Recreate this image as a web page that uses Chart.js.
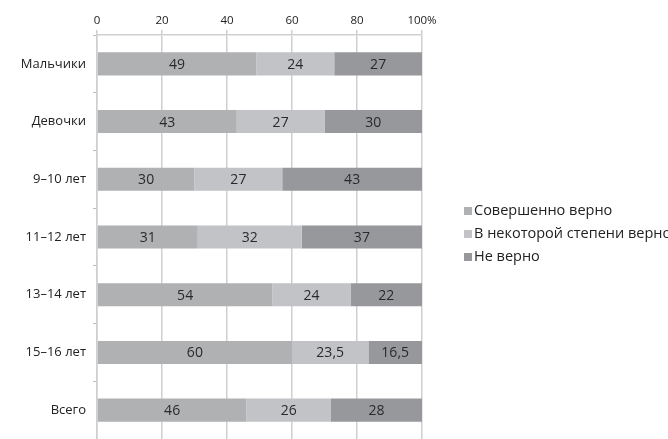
<!DOCTYPE html>
<html>
<head>
<meta charset="utf-8">
<script src="https://cdn.jsdelivr.net/npm/chart.js@4"></script>
<style>
  html, body { margin: 0; padding: 0; background: #fff; }
  #wrap { width: 668px; height: 439px; position: relative; }
</style>
</head>
<body>
<div id="wrap"><canvas id="chart"></canvas></div>
<script>
// data
const categories = ['Мальчики', 'Девочки', '9–10 лет', '11–12 лет', '13–14 лет', '15–16 лет', 'Всего'];
const fullyTrue = [49, 43, 30, 31, 54, 60, 46];
const partlyTrue = [24, 27, 27, 32, 24, 23.5, 26];
const notTrue = [27, 30, 43, 37, 22, 16.5, 28];
const seriesNames = ['Совершенно верно', 'В некоторой степени верно', 'Не верно'];
const xTicks = [0, 20, 40, 60, 80, 100];

const colors = ['#b0b1b3', '#c2c3c6', '#97989b'];
const FONT = '"Open Sans", "Noto Sans", sans-serif';

// numbers inside the bars, with a comma for decimals
const barLabels = {
  id: 'barLabels',
  afterDatasetsDraw(chart){
    const ctx = chart.ctx;
    ctx.save();
    ctx.font = '14px ' + FONT;
    ctx.fillStyle = '#2a2a2a';
    ctx.textAlign = 'center';
    ctx.textBaseline = 'middle';
    chart.data.datasets.forEach((ds, i)=>{
      chart.getDatasetMeta(i).data.forEach((bar, j)=>{
        const txt = String(ds.data[j]).replace('.', ',');
        ctx.fillText(txt, (bar.x + bar.base) / 2, bar.y + 1);
      });
    });
    ctx.restore();
  }
};

// legend on the right, drawn by hand so it can run off the edge like the original
const sideLegend = {
  id: 'sideLegend',
  afterDraw(chart){
    const ctx = chart.ctx;
    ctx.save();
    ctx.font = '14.5px ' + FONT;
    ctx.textBaseline = 'middle';
    chart.data.datasets.forEach((ds, i)=>{
      const y = 211 + i * 23;
      ctx.fillStyle = ds.backgroundColor;
      ctx.fillRect(464, y - 4, 8, 8);
      ctx.fillStyle = '#222';
      ctx.fillText(ds.label, 474, y);
    });
    ctx.restore();
  }
};

const datasets = [fullyTrue, partlyTrue, notTrue].map((d, i)=>({
  label: seriesNames[i],
  data: d,
  backgroundColor: colors[i],
  borderWidth: 0,
  categoryPercentage: 1,
  barPercentage: 0.4
}));

new Chart(document.getElementById('chart'), {
  type: 'bar',
  data: { labels: categories, datasets },
  options: {
    indexAxis: 'y',
    responsive: true,
    maintainAspectRatio: false,
    animation: false,
    layout: { padding: { top: 10, right: 246, bottom: 0, left: 0 } },
    plugins: { legend: { display: false }, tooltip: { enabled: false } },
    scales: {
      x: {
        position: 'top',
        stacked: true,
        min: 0,
        max: 100,
        afterBuildTicks: s => { s.ticks = xTicks.map(v => ({ value: v })); },
        afterFit: s => { s.height = 25; s.paddingLeft = 0; s.paddingRight = 0; },
        ticks: {
          padding: 2,
          color: '#222',
          font: { family: FONT, size: 11.5 },
          callback: v => v === 100 ? '100%' : v
        },
        grid: { color: '#cfcfcf', lineWidth: 1.5, tickLength: 5 },
        border: { color: '#cfcfcf', width: 1.5 }
      },
      y: {
        stacked: true,
        afterFit: s => { s.width = 97; s.paddingTop = 0; s.paddingBottom = 0; },
        ticks: {
          padding: 7,
          color: '#222',
          font: { family: FONT, size: 13 }
        },
        grid: { drawOnChartArea: false, offset: true, color: '#bdbdbd', tickLength: 4 },
        border: { color: '#cfcfcf', width: 1.5 }
      }
    }
  },
  plugins: [barLabels, sideLegend]
});
</script>
</body>
</html>
